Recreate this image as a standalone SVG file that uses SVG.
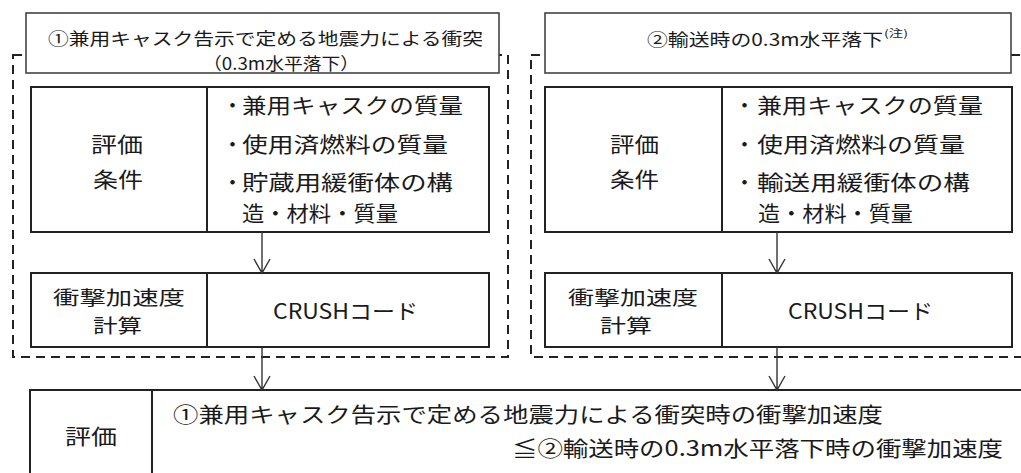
<svg xmlns="http://www.w3.org/2000/svg" width="1021" height="473" viewBox="0 0 1021 473">
<style>
  .box{fill:#fff;stroke:#222;stroke-width:2}
  .tbox{fill:#fff;stroke:#444;stroke-width:1.6}
  .div{stroke:#222;stroke-width:2}
  .dash{fill:none;stroke:#222;stroke-width:2;stroke-dasharray:9 6}
  .t{font-family:"Noto Sans CJK JP","Noto Sans",sans-serif;font-size:21px;fill:#1a1a1a}
  .tc{font-family:"Noto Sans CJK JP","Noto Sans",sans-serif;font-size:19px;fill:#1a1a1a}
  .tt{font-family:"Noto Sans CJK JP","Noto Sans",sans-serif;font-size:17px;fill:#1a1a1a}
  .sup{font-family:"Noto Sans CJK JP","Noto Sans",sans-serif;font-size:10px;fill:#1a1a1a}
  .ln{stroke:#333;stroke-width:1.4;fill:none}
</style>
<rect width="1021" height="473" fill="#fff"/>
<g id="group1">
  <rect class="dash" x="13" y="55" width="495" height="302"/>
</g>
<g id="group2">
  <rect class="dash" x="531" y="55" width="500" height="302"/>
</g>
<g id="title1">
  <rect class="tbox" x="26" y="13" width="473" height="60"/>
  <text class="tt" x="48" y="45" textLength="435" lengthAdjust="spacingAndGlyphs">①兼用キャスク告示で定める地震力による衝突</text>
  <text class="tt" x="203" y="70" textLength="156" lengthAdjust="spacingAndGlyphs">（0.3m水平落下）</text>
</g>
<g id="title2">
  <rect class="tbox" x="545" y="13" width="466" height="60"/>
  <text class="tt" x="647" y="46" textLength="236" lengthAdjust="spacingAndGlyphs">②輸送時の0.3m水平落下</text>
  <text class="sup" x="884" y="37" textLength="24" lengthAdjust="spacingAndGlyphs">(注)</text>
</g>
<g id="cond1">
  <rect class="box" x="31" y="87" width="458" height="145"/>
  <line class="div" x1="207" y1="87" x2="207" y2="232"/>
  <text class="t" x="91" y="152" textLength="52" lengthAdjust="spacingAndGlyphs">評価</text>
  <text class="t" x="93" y="187" textLength="50" lengthAdjust="spacingAndGlyphs">条件</text>
  <text class="t" x="222" y="113"><tspan>・</tspan><tspan x="242" textLength="221" lengthAdjust="spacingAndGlyphs">兼用キャスクの質量</tspan></text>
  <text class="t" x="222" y="152"><tspan>・</tspan><tspan x="242" textLength="206" lengthAdjust="spacingAndGlyphs">使用済燃料の質量</tspan></text>
  <text class="t" x="222" y="190"><tspan>・</tspan><tspan x="242" textLength="211" lengthAdjust="spacingAndGlyphs">貯蔵用緩衝体の構</tspan></text>
  <text class="t" x="242" y="221" textLength="156" lengthAdjust="spacingAndGlyphs">造・材料・質量</text>
</g>
<g id="cond2">
  <rect class="box" x="545" y="87" width="467" height="145"/>
  <line class="div" x1="722" y1="87" x2="722" y2="232"/>
  <text class="t" x="610" y="152" textLength="49" lengthAdjust="spacingAndGlyphs">評価</text>
  <text class="t" x="610" y="187" textLength="49" lengthAdjust="spacingAndGlyphs">条件</text>
  <text class="t" x="734" y="113"><tspan>・</tspan><tspan x="757" textLength="226" lengthAdjust="spacingAndGlyphs">兼用キャスクの質量</tspan></text>
  <text class="t" x="734" y="152"><tspan>・</tspan><tspan x="757" textLength="208" lengthAdjust="spacingAndGlyphs">使用済燃料の質量</tspan></text>
  <text class="t" x="734" y="190"><tspan>・</tspan><tspan x="757" textLength="213" lengthAdjust="spacingAndGlyphs">輸送用緩衝体の構</tspan></text>
  <text class="t" x="758" y="221" textLength="155" lengthAdjust="spacingAndGlyphs">造・材料・質量</text>
</g>
<g id="calc1">
  <rect class="box" x="31" y="273" width="458" height="74"/>
  <line class="div" x1="207" y1="273" x2="207" y2="347"/>
  <text class="tc" x="53" y="305" textLength="132" lengthAdjust="spacingAndGlyphs">衝撃加速度</text>
  <text class="tc" x="93" y="333" textLength="49" lengthAdjust="spacingAndGlyphs">計算</text>
  <text class="t" x="273" y="319" textLength="145" lengthAdjust="spacingAndGlyphs">CRUSHコード</text>
</g>
<g id="calc2">
  <rect class="box" x="545" y="273" width="467" height="74"/>
  <line class="div" x1="722" y1="273" x2="722" y2="347"/>
  <text class="tc" x="568" y="305" textLength="130" lengthAdjust="spacingAndGlyphs">衝撃加速度</text>
  <text class="tc" x="600" y="333" textLength="52" lengthAdjust="spacingAndGlyphs">計算</text>
  <text class="t" x="788" y="319" textLength="145" lengthAdjust="spacingAndGlyphs">CRUSHコード</text>
</g>
<g id="eval">
  <rect class="box" x="30" y="390" width="1010" height="100"/>
  <line class="div" x1="152" y1="390" x2="152" y2="473"/>
  <text class="t" x="65" y="444" textLength="52" lengthAdjust="spacingAndGlyphs">評価</text>
  <text class="t" x="173" y="422" textLength="710" lengthAdjust="spacingAndGlyphs">①兼用キャスク告示で定める地震力による衝突時の衝撃加速度</text>
  <text class="t" x="512" y="456" textLength="491" lengthAdjust="spacingAndGlyphs">≦②輸送時の0.3m水平落下時の衝撃加速度</text>
</g>
<g id="connectors">
  <path class="ln" d="M262 232V273M254 259L262 273L270 259"/>
  <path class="ln" d="M777 232V273M769 259L777 273L785 259"/>
  <path class="ln" d="M262 347V390M254 376L262 390L270 376"/>
  <path class="ln" d="M777 347V390M769 376L777 390L785 376"/>
</g>
</svg>
